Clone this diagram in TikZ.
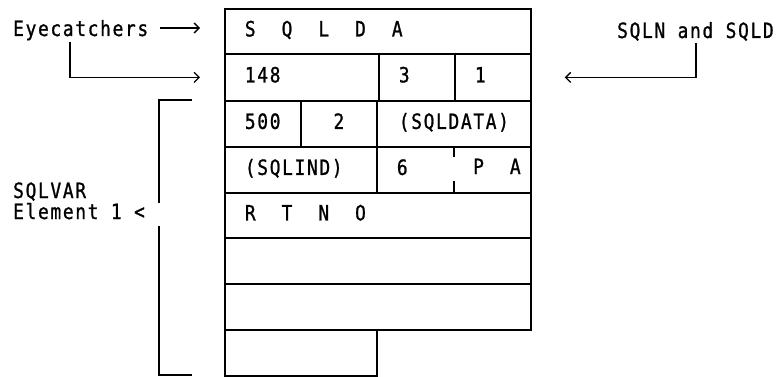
\documentclass[tikz,border=0pt]{standalone}
\usepackage{fontspec}
\usetikzlibrary{arrows.meta,positioning}
\newfontfamily\ibm{DejaVu Sans Mono}[FakeStretch=0.85,LetterSpace=8,FakeBold=1]
\newcommand\blk{\hspace{26pt}}
\tikzset{
  cell/.style={draw, line width=1.8pt, anchor=north west, inner xsep=20pt,
    inner ysep=0pt, text width=#1, align=left, text height=15pt, text depth=5pt,
    font=\ibm\fontsize{21}{21}\selectfont},
  lbl/.style={inner sep=0pt, anchor=base west, font=\ibm\fontsize{21}{21}\selectfont},
  ptr/.style={line width=1.6pt, -{Straight Barb[length=5pt,width=10pt,line width=1.3pt]}},
  brk/.style={line width=1.8pt}
}

\begin{document}
\begin{tikzpicture}[x=1pt,y=-1pt]
  \useasboundingbox (0,0) rectangle (781,377);
  % header rows
  \node[cell=266pt, minimum height=45pt] (hdr) at (224,8) {S\blk Q\blk L\blk D\blk A};
  \node[cell=114pt, minimum height=47pt] (len) at (224,53) {148};
  \node[cell=36pt, minimum height=47pt] (sqln) at (378,53) {3};
  \node[cell=36pt, minimum height=47pt] (sqld) at (454,53) {1};
  % sqlvar element 1
  \node[cell=36pt, minimum height=46pt] (typ) at (224,100) {500};
  \node[cell=36pt, minimum height=46pt, align=center] (vlen) at (300,100) {2};
  \node[cell=114pt, minimum height=46pt, align=center] (dat) at (376,100) {(SQLDATA)};
  \node[cell=112pt, minimum height=46pt] (ind) at (224,146) {(SQLIND)};
  \node[cell=114pt, minimum height=46pt] (nam) at (376,146) {6};
  \draw[line width=1.8pt] (454,146) -- (454,157) (454,181) -- (454,192);
  \node[lbl] (pa) at (473,174) {P\blk A};
  \node[cell=266pt, minimum height=45pt] (rtno) at (224,192) {R\blk T\blk N\blk O};
  \node[cell=266pt, minimum height=46pt] (e1) at (224,237) {};
  \node[cell=266pt, minimum height=46pt] (e2) at (224,283) {};
  \node[cell=112pt, minimum height=46pt] (e3) at (224,329) {};
  % labels
  \node[lbl] (eye) at (13,36) {Eyecatchers};
  \node[lbl] (nd) at (617,38) {SQLN and SQLD};
  \node[lbl] (var) at (13,198) {SQLVAR};
  \node[lbl] (elem) at (13,219) {Element 1 <};
  % pointers
  \draw[ptr] ([xshift=12pt,yshift=8pt]eye.base east) -- ([xshift=-24pt,yshift=8pt]hdr.west |- eye.base east);
  \draw[ptr] ([xshift=57pt,yshift=-6pt]eye.base west) |- ([xshift=-24pt]len.west);
  \draw[ptr] ([xshift=79pt,yshift=-5pt]nd.base west) |- ([xshift=33pt]sqld.east);
  % bracket
  \draw[brk] (192,100) -| (159,203);
  \draw[brk] (159,226) |- (192,375);
\end{tikzpicture}
\end{document}
